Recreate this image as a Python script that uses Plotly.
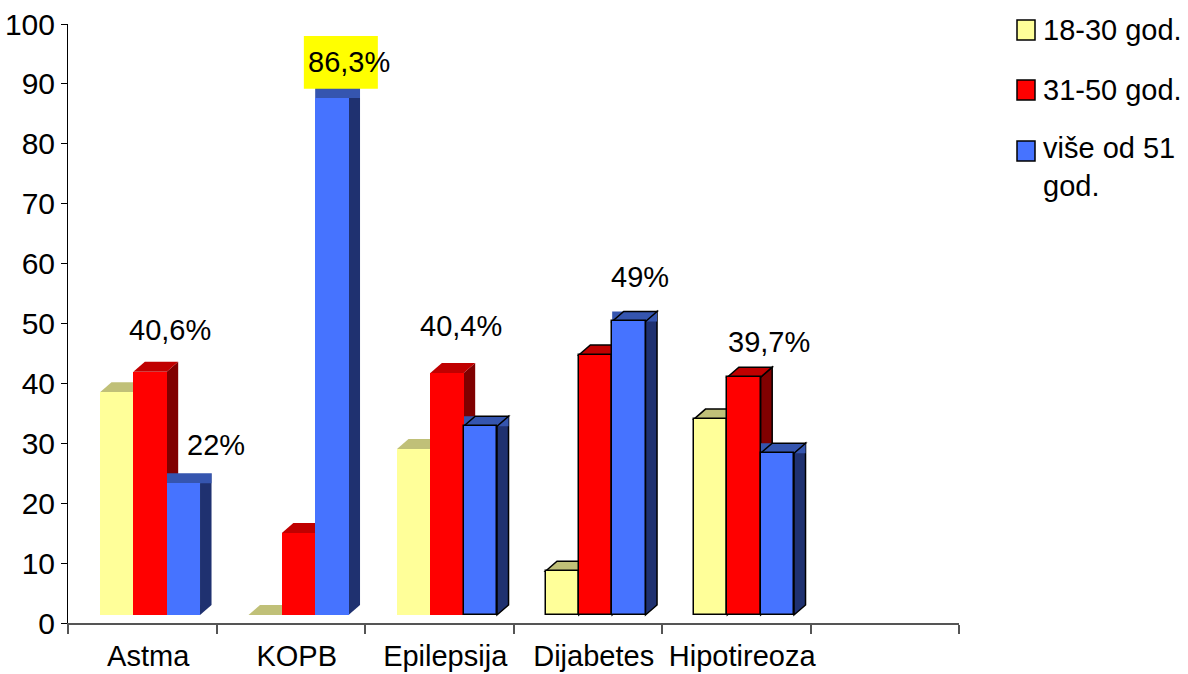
import plotly.graph_objects as go

# ---------------- data ----------------
categories = ["Astma", "KOPB", "Epilepsija", "Dijabetes", "Hipotireoza"]
series_names = ["18-30 god.", "31-50 god.", "više od 51<br>god."]
vals_18_30 = [37.2, 0.0, 27.7, 7.3, 32.7]
vals_31_50 = [40.6, 13.7, 40.4, 43.4, 39.7]
vals_51_plus = [22.0, 86.3, 31.5, 49.0, 27.0]
y_tick_vals = [0, 10, 20, 30, 40, 50, 60, 70, 80, 90, 100]

# data labels (which category / series they belong to, and their text)
label_cat = [0, 0, 1, 2, 3, 4]
label_series = [1, 2, 2, 1, 2, 1]
label_text = ["40,6%", "22%", "86,3%", "40,4%", "49%", "39,7%"]

# ---------------- style ----------------
FONT = "Liberation Sans, Arial, Helvetica, sans-serif"
n_slots = 6            # five categories + one empty slot
bar_w = 0.2245
group_off = 0.2155
dx = 0.0775            # 3D depth in x (category units)
dy = 1.67              # 3D depth in y (value units)
base = 1.34            # floor offset of front faces
px_per_cat = 148.5

front_col = ["#FFFF99", "#FF0000", "#4673FF"]
top_col = ["#C0C078", "#C00000", "#3555AF"]
side_col = ["#9A9A55", "#800000", "#1F3170"]
outlined = [
    [False, False, False, True, True],
    [False, False, False, True, True],
    [False, False, True, True, True],
]
label_dx_px = [20, 33, 17, 13.5, 11, 24.5]
label_dy = [8.3, 7.7, 7.4, 9.2, 8.8, 7.2]
label_font = 29

series_vals = [vals_18_30, vals_31_50, vals_51_plus]

fig = go.Figure()


def path(pts):
    return "M " + " L ".join(f"{x:.4f},{y:.4f}" for x, y in pts) + " Z"


shapes = []
for i in range(len(categories)):
    for k, vals in enumerate(series_vals):
        v = vals[i]
        x0 = i + group_off + k * bar_w
        x1 = x0 + bar_w
        top = base + v
        ol = outlined[k][i]
        lw = 1.5 if ol else 0
        side = [(x1, base), (x1, top), (x1 + dx, top + dy), (x1 + dx, base + dy)]
        shapes.append(dict(type="path", path=path(side), xref="x", yref="y",
                           fillcolor=side_col[k], line=dict(color="black", width=lw),
                           layer="below"))
        para = [(x0, top), (x1, top), (x1 + dx, top + dy), (x0 + dx, top + dy)]
        if k == 2:
            rect = [(x0, top), (x1 + dx, top), (x1 + dx, top + dy), (x0, top + dy)]
            shapes.append(dict(type="path", path=path(rect), xref="x", yref="y",
                               fillcolor=top_col[k], line=dict(width=0), layer="below"))
            if ol:
                shapes.append(dict(type="path", path=path(para), xref="x", yref="y",
                                   fillcolor=top_col[k], line=dict(color="black", width=lw),
                                   layer="below"))
        else:
            shapes.append(dict(type="path", path=path(para), xref="x", yref="y",
                               fillcolor=top_col[k], line=dict(color="black", width=lw),
                               layer="below"))

# front faces as bars
for k, vals in enumerate(series_vals):
    xs = [i + group_off + (k + 0.5) * bar_w for i in range(len(categories))]
    fig.add_trace(go.Bar(
        x=xs, y=vals, base=base, width=bar_w, name=series_names[k],
        marker=dict(color=front_col[k],
                    line=dict(color="black",
                              width=[1.5 if o else 0 for o in outlined[k]])),
        showlegend=False, hoverinfo="skip",
    ))

# data labels
annotations = []
for j, txt in enumerate(label_text):
    i, k = label_cat[j], label_series[j]
    v = series_vals[k][i]
    xc = i + group_off + (k + 0.5) * bar_w + label_dx_px[j] / px_per_cat
    yc = v + label_dy[j]
    if txt == "86,3%":
        shapes.append(dict(type="rect", xref="x", yref="y",
                           x0=xc - 45 / px_per_cat, x1=xc + 29 / px_per_cat,
                           y0=yc - 4.5, y1=yc + 4.3,
                           fillcolor="#FFFF00", line=dict(width=0), layer="below"))
    annotations.append(dict(x=xc, y=yc, xref="x", yref="y", text=txt,
                            showarrow=False, xanchor="center", yanchor="middle",
                            font=dict(family=FONT, size=label_font, color="black")))

# manual legend
legend_rows_px = [30, 90, 151]
plot_left, plot_w, plot_bottom, plot_h = 68, 891, 623, 599
for k, name in enumerate(series_names):
    cy = legend_rows_px[k]
    sq_x0 = (1017 - plot_left) / plot_w
    sq_x1 = (1035 - plot_left) / plot_w
    shapes.append(dict(type="rect", xref="paper", yref="paper",
                       x0=sq_x0, x1=sq_x1,
                       y0=(plot_bottom - (cy + 10)) / plot_h,
                       y1=(plot_bottom - (cy - 10)) / plot_h,
                       fillcolor=front_col[k], line=dict(color="black", width=1.5)))
    annotations.append(dict(x=(1041 - plot_left) / plot_w,
                            y=(plot_bottom - cy) / plot_h,
                            xref="paper", yref="paper", text=name, showarrow=False,
                            xanchor="left", yanchor="top" if "<br>" in name else "middle",
                            yshift=21 if "<br>" in name else 0,
                            align="left",
                            font=dict(family=FONT, size=label_font, color="black")))

fig.update_layout(
    width=1188, height=674, autosize=False,
    margin=dict(l=68, r=229, t=24, b=51, pad=0),
    paper_bgcolor="white", plot_bgcolor="white",
    barmode="overlay", bargap=0,
    shapes=shapes, annotations=annotations,
    showlegend=False,
    font=dict(family=FONT, color="black"),
)
fig.update_xaxes(
    range=[0, n_slots], automargin=False,
    tickmode="array",
    tickvals=[i + 0.54 for i in range(len(categories))],
    ticktext=categories,
    ticks="", showgrid=False, zeroline=False,
    showline=True, linecolor="#555555", linewidth=1.5,
    tickfont=dict(family=FONT, size=29, color="black"),
    ticklabelstandoff=6,
    minor=dict(tickmode="array", tickvals=list(range(n_slots + 1)),
               ticks="outside", ticklen=9, tickcolor="#555555", tickwidth=1.5,
               showgrid=False),
    fixedrange=True,
)
fig.update_yaxes(
    range=[0, 100], automargin=False, tickmode="array", tickvals=y_tick_vals,
    ticks="outside", ticklen=6, tickcolor="black", tickwidth=1,
    showline=True, linecolor="black", linewidth=1,
    showgrid=False, zeroline=False,
    tickfont=dict(family=FONT, size=30, color="black"),
    fixedrange=True,
)

fig.write_html("out.html", config={"displayModeBar": False},
               post_script="document.body.style.margin='0';")
